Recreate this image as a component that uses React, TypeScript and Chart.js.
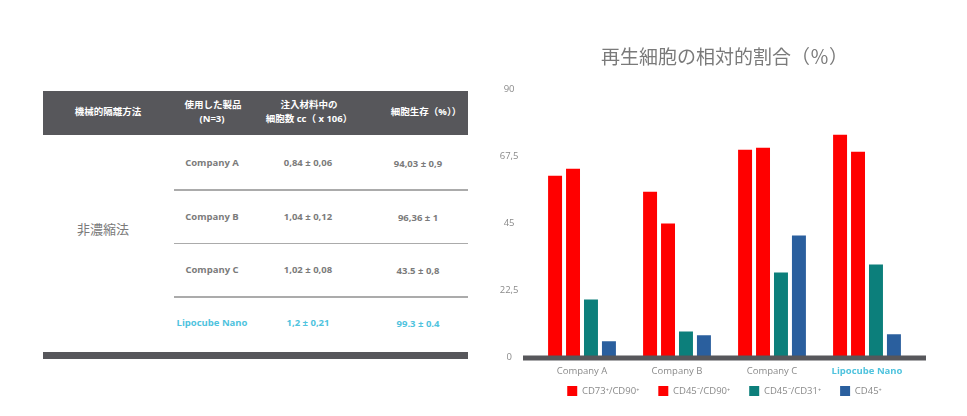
import { Chart, registerables, type Plugin } from 'chart.js';
import { useEffect, useRef, type CSSProperties, type FC, type ReactNode } from 'react';

Chart.register(...registerables);

// chart data
const categories = ['Company A', 'Company B', 'Company C', 'Lipocube Nano'];
const seriesNames = ['CD73⁺/CD90⁺', 'CD45⁻/CD90⁺', 'CD45⁻/CD31⁺', 'CD45⁺'];
const cd73Cd90 = [60.9, 55.5, 69.6, 74.6];
const cd45negCd90 = [63.2, 44.8, 70.3, 68.9];
const cd45negCd31 = [19.3, 8.6, 28.4, 31.1];
const cd45pos = [5.3, 7.3, 40.8, 7.6];
const yTicks = [0, 22.5, 45, 67.5, 90];
const yTickLabels = ['0', '22,5', '45', '67,5', '90'];

// table data
const methodName = '非濃縮法';
const headerCol1 = ['機械的隔離方法'];
const headerCol2 = ['使用した製品', '(N=3)'];
const headerCol3 = ['注入材料中の', '細胞数 cc（ x 106）'];
const headerCol4 = ['細胞生存（%））'];
const products = ['Company A', 'Company B', 'Company C', 'Lipocube Nano'];
const cellCounts = ['0,84 ± 0,06', '1,04 ± 0,12', '1,02 ± 0,08', '1,2 ± 0,21'];
const viability = ['94,03 ± 0,9', '96,36 ± 1', '43.5 ± 0,8', '99.3 ± 0.4'];

const GRAY = '#8a8a8a';
const CYAN = '#4fc3de';
const DARK = '#57575b';

const axisBar: Plugin<'bar'> = {
  id: 'axisBar',
  afterDatasetsDraw(chart) {
    const { ctx, chartArea, scales } = chart;
    const y = scales.y.getPixelForValue(0);
    ctx.save();
    ctx.fillStyle = DARK;
    ctx.fillRect(chartArea.left - 11.5, y - 1.5, chartArea.right - chartArea.left + 23, 5);
    ctx.restore();
  },
};

const Text: FC<{ cx: number; cy: number; children: ReactNode; style?: CSSProperties }> = ({ cx, cy, children, style }) => (
  <div
    style={{
      position: 'absolute',
      left: cx - 80,
      top: cy - 8,
      width: 160,
      height: 16,
      lineHeight: '16px',
      textAlign: 'center',
      whiteSpace: 'nowrap',
      ...style,
    }}
  >
    {children}
  </div>
);

const DataTable: FC = () => {
  const headStyle: CSSProperties = { color: '#ffffff', fontSize: 9.5, fontWeight: 700 };
  const rowY = [163, 217, 270, 323];
  const lines = [
    { y: 189, h: 2 },
    { y: 243, h: 1 },
    { y: 296, h: 2 },
  ];
  return (
    <>
      <div style={{ position: 'absolute', left: 43, top: 91, width: 425, height: 44, background: DARK }} />
      <Text cx={108} cy={112} style={headStyle}>{headerCol1[0]}</Text>
      <Text cx={213} cy={105} style={headStyle}>{headerCol2[0]}</Text>
      <Text cx={212} cy={119} style={headStyle}>{headerCol2[1]}</Text>
      <Text cx={309} cy={105} style={headStyle}>{headerCol3[0]}</Text>
      <Text cx={309} cy={119} style={headStyle}>{headerCol3[1]}</Text>
      <Text cx={426} cy={112} style={headStyle}>{headerCol4[0]}</Text>
      <Text cx={103} cy={229} style={{ color: '#7a7a7a', fontSize: 13 }}>{methodName}</Text>
      {lines.map((l) => (
        <div key={l.y} style={{ position: 'absolute', left: 174, top: l.y, width: 294, height: l.h, background: '#ababab' }} />
      ))}
      {products.map((p, i) => {
        const color = i === 3 ? CYAN : '#7b7b7b';
        const st: CSSProperties = { color, fontSize: 9.5, fontWeight: 700 };
        return (
          <div key={p}>
            <Text cx={212} cy={rowY[i]} style={st}>{p}</Text>
            <Text cx={308} cy={rowY[i]} style={st}>{cellCounts[i]}</Text>
            <Text cx={418} cy={rowY[i] + 1} style={st}>{viability[i]}</Text>
          </div>
        );
      })}
      <div style={{ position: 'absolute', left: 43, top: 352, width: 425, height: 7, background: DARK }} />
    </>
  );
};

const BarChart: FC = () => {
  const canvasRef = useRef<HTMLCanvasElement>(null);
  const chartRef = useRef<Chart<'bar'> | null>(null);

  useEffect(() => {
    if (!canvasRef.current) {
      return;
    }
    const tickFont = { family: "'Open Sans', sans-serif", size: 9.5 };

    chartRef.current = new Chart(canvasRef.current, {
      type: 'bar',
      data: {
        labels: categories,
        datasets: [
          { label: seriesNames[0], data: cd73Cd90, backgroundColor: '#ff0000' },
          { label: seriesNames[1], data: cd45negCd90, backgroundColor: '#ff0000' },
          { label: seriesNames[2], data: cd45negCd31, backgroundColor: '#0c7f7b' },
          { label: seriesNames[3], data: cd45pos, backgroundColor: '#2a5f9e' },
        ],
      },
      options: {
        animation: false,
        responsive: true,
        maintainAspectRatio: false,
        layout: { padding: { left: 14, right: 12, top: 0, bottom: 10 } },
        datasets: { bar: { categoryPercentage: 0.756, barPercentage: 0.778, borderWidth: 0 } },
        plugins: {
          title: {
            display: true,
            text: '再生細胞の相対的割合（％）',
            color: '#7a7a7a',
            font: { family: "'Noto Sans CJK JP', sans-serif", size: 19, weight: 'normal' },
            padding: { top: 45.6, bottom: 20.6 },
          },
          legend: {
            position: 'bottom',
            labels: {
              boxWidth: 10,
              boxHeight: 10,
              padding: 19,
              color: GRAY,
              font: tickFont,
            },
          },
          tooltip: { enabled: false },
        },
        scales: {
          x: {
            grid: { display: false, drawTicks: false },
            border: { display: false },
            ticks: {
              mirror: true,
              padding: -19.7,
              color: (ctx) => (ctx.index === 3 ? CYAN : GRAY),
              font: (ctx) => ({ ...tickFont, weight: ctx.index === 3 ? 'bold' : 'normal' }),
            },
            afterFit: (scale) => {
              scale.height = 10;
            },
          },
          y: {
            min: 0,
            max: 90,
            grid: { display: false, drawTicks: false },
            border: { display: false },
            afterBuildTicks: (scale) => {
              scale.ticks = yTicks.map((value) => ({ value }));
            },
            ticks: {
              padding: 16,
              crossAlign: 'center',
              color: GRAY,
              font: tickFont,
              callback: (_value, index) => yTickLabels[index],
            },
            afterFit: (scale) => {
              scale.width = 40.5;
            },
          },
          // empty axis on the right, only to keep the title and legend centred over the bars
          yRight: {
            type: 'linear',
            position: 'right',
            grid: { display: false, drawTicks: false },
            border: { display: false },
            ticks: { display: false },
            afterFit: (scale) => {
              scale.width = 40.5;
            },
          },
        },
      },
      plugins: [axisBar],
    });

    return () => {
      chartRef.current?.destroy();
      chartRef.current = null;
    };
  }, []);

  return (
    <div style={{ position: 'absolute', left: 480, top: 0, width: 487, height: 416 }}>
      <canvas ref={canvasRef} />
    </div>
  );
};

const App: FC = () => {
  useEffect(() => {
    document.body.style.margin = '0';
  }, []);

  return (
    <div
      style={{
        position: 'absolute',
        left: 0,
        top: 0,
        width: 967,
        height: 416,
        background: '#ffffff',
        overflow: 'hidden',
        fontFamily: "'Open Sans', 'Noto Sans CJK JP', sans-serif",
      }}
    >
      <DataTable />
      <BarChart />
    </div>
  );
};

export default App;
